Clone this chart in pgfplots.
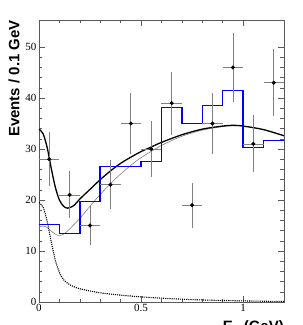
\documentclass[border=0pt]{standalone}
\usepackage{fontspec}
\setmainfont{Liberation Serif}
\setsansfont{Liberation Sans}
\usepackage{pgfplots}
\pgfplotsset{compat=1.18}
\usetikzlibrary{calc}
\begin{document}
\begin{tikzpicture}
\fill[white] (-39pt,-23pt) rectangle (264pt,302pt);
\begin{axis}[
  at={(0,0)}, anchor=south west,
  scale only axis, width=245pt, height=282pt,
  xmin=0, xmax=1.2, ymin=0, ymax=55.3,
  xtick={0,0.5,1}, xticklabels={0,0.5,1},
  minor x tick num=4,
  ytick={0,10,20,30,40,50},
  minor y tick num=4,
  tick align=inside,
  major tick length=6pt, minor tick length=3.5pt,
  axis line style={black!65, line width=0.8pt},
  every tick/.style={black!65, line width=0.6pt},
  tick label style={font=\fontsize{11}{11}\selectfont},
  xticklabel style={yshift=1pt},
  yticklabel style={xshift=1pt},
  /pgf/number format/assume math mode=true,
  ylabel={\sffamily\bfseries Events / 0.1 GeV},
  ylabel style={font=\fontsize{15}{15}\selectfont, at={(rel axis cs:0,1)}, anchor=south east, yshift=19pt, inner sep=0pt},
  clip=true,
]
% background-like thin grey curve
\addplot[black!50, line width=0.6pt, smooth, no marks] coordinates {
(0,14.7) (0.02,14.9) (0.04,14.6) (0.06,13.9) (0.08,13.3) (0.1,13.05) (0.12,13.3) (0.15,14.3) (0.2,16.4) (0.25,18.8) (0.3,21.1) (0.35,23.2) (0.4,25.1) (0.45,26.8) (0.5,28.3) (0.6,30.7) (0.7,32.5) (0.8,33.7) (0.9,34.4) (0.95,34.55) (1.0,34.5) (1.1,33.8) (1.2,32.6)};
% total fit
\addplot[black, line width=1.3pt, smooth, no marks] coordinates {
(0,33.9) (0.02,33.0) (0.04,30.3) (0.06,26.2) (0.08,22.5) (0.1,20.0) (0.12,18.8) (0.14,18.4) (0.17,18.9) (0.2,20.2) (0.25,22.1) (0.3,24.0) (0.35,25.7) (0.4,27.2) (0.45,28.4) (0.5,29.5) (0.55,30.4) (0.6,31.3) (0.7,32.8) (0.8,33.9) (0.9,34.5) (0.95,34.65) (1.0,34.5) (1.1,33.8) (1.2,32.6)};
% peaking component
\addplot[black, line width=1.1pt, densely dotted, smooth, no marks] coordinates {
(0,19.5) (0.02,18.6) (0.04,15.8) (0.06,11.8) (0.08,8.2) (0.1,5.8) (0.12,4.4) (0.15,3.4) (0.2,2.6) (0.3,1.8) (0.4,1.35) (0.5,1.0) (0.6,0.75) (0.7,0.55) (0.8,0.4) (0.9,0.3) (1.0,0.22) (1.1,0.15) (1.2,0.1)};
% histogram
\addplot[draw=blue, line width=1.5pt, const plot mark left, no marks] table {
x y
0 15.2
0.1 13.45
0.2 19.7
0.3 26.55
0.4 26.55
0.5 27.55
0.6 38.15
0.7 35.0
0.8 38.55
0.9 41.45
1.0 30.3
1.1 31.65
1.2 31.65
};
% data
\addplot[only marks, mark=*, mark size=1.8pt, black,
  error bars/.cd, x dir=both, x explicit, y dir=both, y explicit,
  error mark=none, error bar style={black!50, line width=0.8pt}]
  coordinates {
(0.05,28) +- (0.05,5.3)
(0.15,21) +- (0.05,4.6)
(0.25,15) +- (0.05,3.9)
(0.35,23) +- (0.05,4.8)
(0.45,35) +- (0.05,5.9)
(0.55,30) +- (0.05,5.5)
(0.65,39) +- (0.05,6.2)
(0.75,19) +- (0.05,4.4)
(0.85,35) +- (0.05,5.9)
(0.95,46) +- (0.05,6.8)
(1.05,31) +- (0.05,5.6)
(1.15,43) +- (0.05,6.6)
};
\coordinate (SW) at (rel axis cs:0,0);
\coordinate (NE) at (rel axis cs:1,1);
\end{axis}
\node[overlay, anchor=north east, inner sep=0pt, font=\sffamily\bfseries\fontsize{15}{15}\selectfont] at ($(SW-|NE)+(0,-18pt)$) {E$_{\gamma}$ (GeV)};
\pgfresetboundingbox
\path[use as bounding box] ($(SW)+(-39pt,-23pt)$) rectangle ($(NE)+(19pt,20pt)$);
\end{tikzpicture}
\end{document}
